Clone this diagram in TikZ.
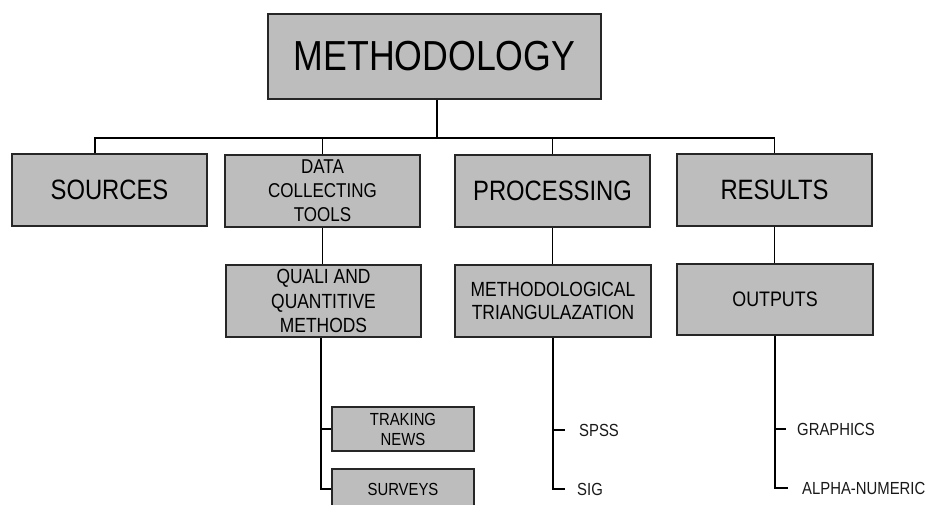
\documentclass[tikz,border=0pt]{standalone}
\usepackage{fontspec}
\setmainfont{Liberation Sans}[FakeStretch=0.85]
\begin{document}
\begin{tikzpicture}[x=1pt,y=-1pt,
  box/.style={draw=black!85,line width=1.5pt,fill=black!26,inner sep=0pt,align=center,text=black},
  conn/.style={draw=black,line width=1.6pt},
  leaf/.style={anchor=west,inner sep=0pt,font=\fontsize{17.5}{20}\selectfont,text=black!90}]
\useasboundingbox (0,0) rectangle (925,504);
\clip (0,0) rectangle (925,504);
\fill[white] (0,0) rectangle (925,504);
% boxes
\node[box,minimum width=333pt,minimum height=85pt,font=\fontsize{42}{46}\selectfont] (meth) at (434.5,56.5) {METHODOLOGY};
\node[box,minimum width=195pt,minimum height=72pt,font=\fontsize{28}{32}\selectfont] (sources) at (109.5,190) {SOURCES};
\node[box,minimum width=195pt,minimum height=72pt,font=\fontsize{20}{24}\selectfont] (dct) at (322.5,191) {DATA\\COLLECTING\\TOOLS};
\node[box,minimum width=195pt,minimum height=72pt,font=\fontsize{28}{32}\selectfont] (proc) at (552.5,191) {PROCESSING};
\node[box,minimum width=195pt,minimum height=72pt,font=\fontsize{28}{32}\selectfont] (res) at (774.5,190) {RESULTS};
\node[box,minimum width=195pt,minimum height=72pt,font=\fontsize{20.5}{24.5}\selectfont] (quali) at (323.5,301) {QUALI AND\\QUANTITIVE\\METHODS};
\node[box,minimum width=196pt,minimum height=72pt,font=\fontsize{20.5}{23.5}\selectfont] (mtri) at (553,301) {METHODOLOGICAL\\TRIANGULAZATION};
\node[box,minimum width=196pt,minimum height=71pt,font=\fontsize{21}{24}\selectfont] (outp) at (775,299.5) {OUTPUTS};
\node[box,minimum width=142pt,minimum height=44pt,font=\fontsize{17.5}{20}\selectfont] (trak) at (403,429) {TRAKING\\NEWS};
\node[box,minimum width=142pt,minimum height=40pt,font=\fontsize{17.5}{20}\selectfont] (surv) at (403,489) {SURVEYS};
% leaf labels
\node[leaf] (spss) at (579,430) {SPSS};
\node[leaf] (sig) at (577,489) {SIG};
\node[leaf] (graph) at (797,429) {GRAPHICS};
\node[leaf] (alpha) at (802,488) {ALPHA-NUMERIC};
% connectors
\coordinate (bus) at (437,138);
\coordinate (sdrop) at (95,138);
\draw[conn] (meth.south -| bus) -- (bus);
\draw[conn] (sdrop |- sources.north) -- (sdrop) -| (res.north);
\draw[conn] (dct.north) -- (dct.north |- bus);
\draw[conn] (proc.north) -- (proc.north |- bus);
\draw[conn] (dct.south) -- (dct.south |- quali.north);
\draw[conn] (proc.south) -- (proc.south |- mtri.north);
\draw[conn] (res.south) -- (res.south |- outp.north);
% quali branches
\coordinate (qv) at (321,0);
\draw[conn] (qv |- quali.south) -- (qv |- surv.west) -- (surv.west);
\draw[conn] (qv |- trak.west) -- (trak.west);
% processing branches
\draw[conn] (mtri.south) -- (mtri.south |- sig.west) -- ([xshift=-12pt]sig.west);
\draw[conn] (mtri.south |- spss.west) -- ([xshift=-14pt]spss.west);
% outputs branches
\draw[conn] (outp.south) -- (outp.south |- alpha.west) -- ([xshift=-14pt]alpha.west);
\draw[conn] (outp.south |- graph.west) -- ([xshift=-11pt]graph.west);
\end{tikzpicture}
\end{document}
